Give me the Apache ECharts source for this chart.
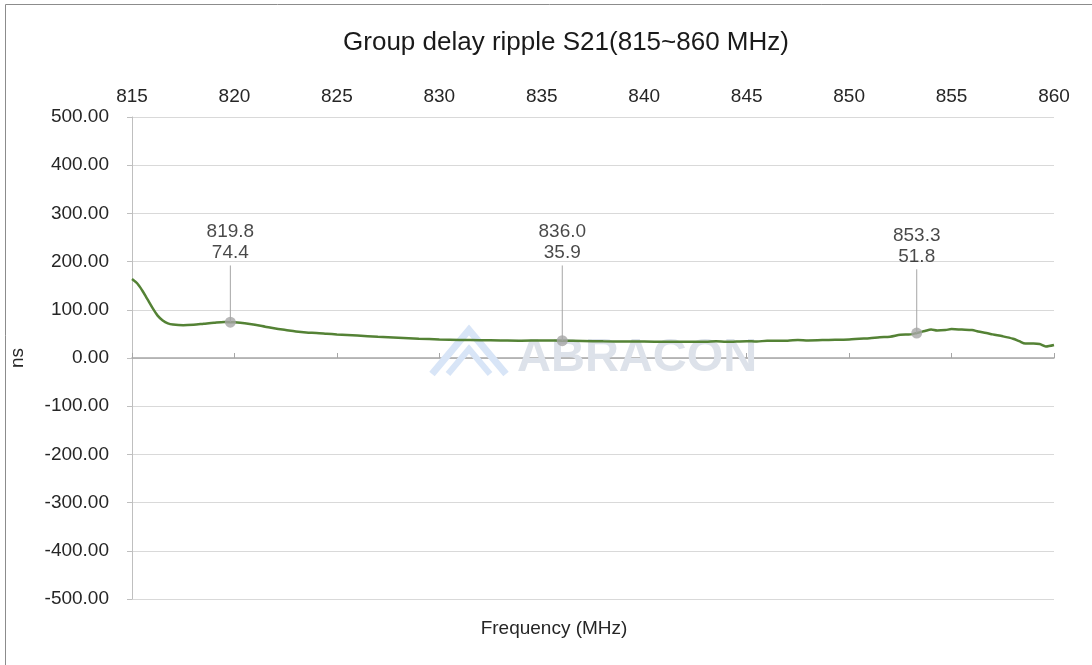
<!DOCTYPE html>
<html>
<head>
<meta charset="utf-8">
<script src="https://cdn.jsdelivr.net/npm/echarts@6/dist/echarts.min.js"></script>
<style>
html,body{margin:0;padding:0;background:#fff;}
#c{width:1092px;height:665px;}
</style>
</head>
<body>
<div id="c"></div>
<script>
// Frequency (MHz) and group delay (ns)
const freqs = [815.0,815.25,815.5,815.75,816.0,816.25,816.5,816.75,817.0,817.5,818.0,818.5,819.0,819.5,819.8,820.0,820.5,821.0,821.5,822.0,822.5,823.0,823.5,824.0,824.5,825.0,826,827,828,829,830,831,832,833,834,835,836,837,838,839,840,841,842,843,843.5,844,845,845.5,846,847,847.5,848,849,850,850.5,851,851.5,852,852.5,853,853.3,853.7,854,854.3,854.7,855,855.5,856,856.3,856.7,857,857.5,858,858.3,858.6,859,859.3,859.6,860];
const delays = [164,155,140,122,104,88,78,72,69.5,68,69,71,73,74.5,74.4,74,72,69,65,61,58,55,53,52,50.5,49,46.5,44,42,40,38.5,37.5,37,36.5,36,36.5,35.9,35.5,34.5,34,34,33.5,33.5,33.5,34.5,33.5,35,34,36,36,37.5,36.5,37.5,38.5,40,41,43,44,48,49,51.8,56,59,57,58,60,59,58,55,52,49,45,40,35,30,30,29,24,27];
const markerFreqs = [819.8, 836.0, 853.3];
const markerValues = [74.4, 35.9, 51.8];
const leaderTops = [192, 192, 184];
const xTicks = [815,820,825,830,835,840,845,850,855,860];
const yTicks = [-500,-400,-300,-200,-100,0,100,200,300,400,500];

const chart = echarts.init(document.getElementById('c'));
const font = 'Liberation Sans, Arial, sans-serif';
const txt = '#262626';

const series = [{
  type: 'line',
  data: freqs.map((f, i) => [f, delays[i]]),
  smooth: 0.3,
  symbol: 'none',
  lineStyle: { color: '#548235', width: 2.5 },
  z: 3
}];
markerFreqs.forEach((f, i) => {
  series.push({
    type: 'line',
    data: [[f, markerValues[i]], [f, leaderTops[i]]],
    symbol: 'none',
    lineStyle: { color: '#a6a6a6', width: 1 },
    silent: true,
    z: 4
  });
  series.push({
    type: 'scatter',
    data: [[f, leaderTops[i]]],
    symbolSize: 0,
    z: 5,
    label: {
      show: true,
      position: 'top',
      distance: 2,
      formatter: () => f.toFixed(1) + '\n' + markerValues[i].toFixed(1),
      fontFamily: font,
      fontSize: 19,
      lineHeight: 21,
      color: '#1a1a1a'
    }
  });
  series.push({
    type: 'scatter',
    data: [[f, markerValues[i]]],
    symbol: 'circle',
    symbolSize: 11,
    itemStyle: { color: '#a6a6a6' },
    z: 6
  });
});

chart.setOption({
  animation: false,
  backgroundColor: '#fff',
  grid: { left: 132, right: 38, top: 117, bottom: 66, containLabel: false, outerBoundsMode: 'none' },
  xAxis: [{
    type: 'value',
    min: xTicks[0], max: xTicks[xTicks.length - 1], interval: 5,
    position: 'bottom',
    axisLine: { onZero: true, lineStyle: { color: '#a6a6a6', width: 1.5 } },
    axisTick: { show: true, inside: true, length: 5, lineStyle: { color: '#a6a6a6' } },
    axisLabel: { show: false },
    splitLine: { show: false }
  }, {
    type: 'value',
    min: xTicks[0], max: xTicks[xTicks.length - 1], interval: 5,
    position: 'top',
    axisLine: { show: false },
    axisTick: { show: false },
    axisLabel: { show: true, margin: 11, fontFamily: font, fontSize: 19, color: txt },
    splitLine: { show: false }
  }],
  yAxis: {
    type: 'value',
    min: yTicks[0], max: yTicks[yTicks.length - 1], interval: 100,
    name: 'ns', nameLocation: 'middle', nameGap: 105, nameRotate: 90,
    nameTextStyle: { fontFamily: font, fontSize: 19, color: txt },
    axisLine: { show: true, onZero: false, lineStyle: { color: '#bfbfbf' } },
    axisTick: { show: true, length: 5, lineStyle: { color: '#bfbfbf' } },
    axisLabel: { margin: 23, fontFamily: font, fontSize: 19, color: txt, formatter: v => v.toFixed(2) },
    splitLine: { show: true, lineStyle: { color: '#d9d9d9', width: 1 } }
  },
  graphic: [
    { type: 'rect', shape: { x: 5.5, y: 4.5, width: 1200, height: 800 }, style: { fill: 'none', stroke: '#8c8c8c', lineWidth: 1 }, z: -10, silent: true },
    { type: 'text', x: 566, y: 43, style: { text: 'Group delay ripple S21(815~860 MHz)', fontFamily: font, fontSize: 26, fill: '#1a1a1a', textAlign: 'center', textVerticalAlign: 'middle' } },
    { type: 'text', x: 554, y: 629, style: { text: 'Frequency (MHz)', fontFamily: font, fontSize: 19, fill: txt, textAlign: 'center', textVerticalAlign: 'middle' } },
    // watermark
    { type: 'polyline', shape: { points: [[432, 374], [469, 330], [506, 374]] }, style: { fill: 'none', stroke: '#d8e5f7', lineWidth: 7 }, z: 1, silent: true },
    { type: 'polyline', shape: { points: [[448, 374], [469, 349], [490, 374]] }, style: { fill: 'none', stroke: '#d8e5f7', lineWidth: 6 }, z: 1, silent: true },
    { type: 'text', x: 517, y: 358, style: { text: 'ABRACON', fontFamily: font, fontWeight: 'bold', fontSize: 47, fill: '#dde2ea', textAlign: 'left', textVerticalAlign: 'middle' }, z: 1, silent: true }
  ],
  series: series
});
</script>
</body>
</html>
